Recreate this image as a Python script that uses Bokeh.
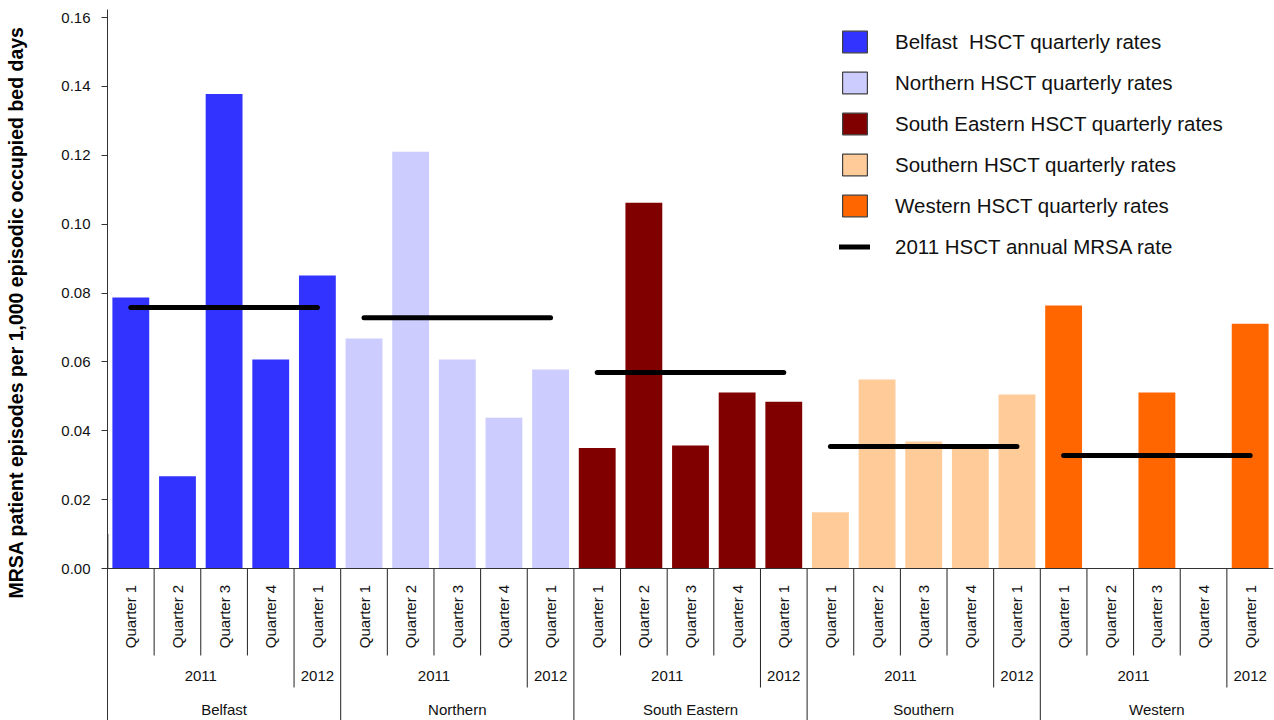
import math
from bokeh.plotting import figure
from bokeh.models import (Range1d, FixedTicker, NumeralTickFormatter, Legend, LegendItem,
                          ColumnDataSource, Title, Span)
from bokeh.core.properties import value
from bokeh.embed import file_html
from bokeh.resources import INLINE

# ---------------- data ----------------
regions = ["Belfast", "Northern", "South Eastern", "Southern", "Western"]
quarters = ["Quarter 1", "Quarter 2", "Quarter 3", "Quarter 4", "Quarter 1"]
years = ["2011", "2011", "2011", "2011", "2012"]

belfast = [0.0787, 0.0268, 0.1378, 0.0607, 0.0851]
northern = [0.0668, 0.1210, 0.0607, 0.0438, 0.0578]
south_eastern = [0.0350, 0.1062, 0.0357, 0.0511, 0.0484]
southern = [0.0163, 0.0549, 0.0369, 0.0352, 0.0505]
western = [0.0764, 0.0, 0.0511, 0.0, 0.0711]
region_values = [belfast, northern, south_eastern, southern, western]

annual_2011 = [0.0758, 0.0728, 0.0569, 0.0354, 0.0328]

colors = ["#3333FF", "#CCCCFF", "#800000", "#FFCC99", "#FF6600"]
legend_labels = ["Belfast  HSCT quarterly rates", "Northern HSCT quarterly rates",
                 "South Eastern HSCT quarterly rates", "Southern HSCT quarterly rates",
                 "Western HSCT quarterly rates"]
annual_label = "2011 HSCT annual MRSA rate"
y_label = "MRSA patient episodes per 1,000 episodic occupied bed days"
y_ticks = [0.00, 0.02, 0.04, 0.06, 0.08, 0.10, 0.12, 0.14, 0.16]

FONT = "Liberation Sans"
TXT = "#111111"

n_per = len(quarters)
n_total = n_per * len(regions)

# vertical layout: 0.16 at 17px, 0 at 568px, bottom at 720px
PX = 3443.75
Y_TOP = 0.16 + 8 / PX
Y_BOTTOM = -152 / PX
Q_LABEL_Y = -48 / PX
Q_SEP_Y = -87 / PX
YR_LABEL_Y = -107 / PX
YR_SEP_Y = -119 / PX
RG_LABEL_Y = -141 / PX

p = figure(width=1274, height=720, output_backend="svg", toolbar_location=None,
           x_range=Range1d(0, n_total), y_range=Range1d(Y_BOTTOM, Y_TOP),
           x_axis_location=None, title=None,
           min_border_left=107, min_border_right=1, min_border_top=9, min_border_bottom=0)
p.outline_line_color = None
p.xgrid.visible = False
p.ygrid.visible = False
p.background_fill_color = "white"

# ---------------- bars ----------------
for g, (vals, col) in enumerate(zip(region_values, colors)):
    src = ColumnDataSource(dict(x=[g * n_per + k + 0.5 for k in range(n_per)], top=vals))
    p.vbar(x="x", top="top", bottom=0, width=0.79, source=src,
           fill_color=col, line_color=None)

# baseline at zero
p.add_layout(Span(location=0, dimension="width", line_color="#333333", line_width=1))

# ---------------- annual lines ----------------
ann_src = ColumnDataSource(dict(
    x0=[g * n_per + 0.5 for g in range(len(regions))],
    x1=[g * n_per + n_per - 0.5 for g in range(len(regions))],
    y=annual_2011))
ann = p.segment(x0="x0", y0="y", x1="x1", y1="y", source=ann_src,
                line_color="black", line_width=5, line_cap="round")

# ---------------- category table ----------------
xs_q, lab_q = [], []
for g in range(len(regions)):
    for k in range(n_per):
        xs_q.append(g * n_per + k + 0.5)
        lab_q.append(quarters[k])
p.text(x=xs_q, y=[Q_LABEL_Y] * len(xs_q), text=lab_q, angle=math.pi / 2,
       text_align="center", text_baseline="middle", text_font=value(FONT),
       text_font_size="15px", text_color=TXT)

xs_y, lab_y = [], []
for g in range(len(regions)):
    uniq = []
    for k, yv in enumerate(years):
        if not uniq or uniq[-1][0] != yv:
            uniq.append([yv, k, k])
        else:
            uniq[-1][2] = k
    for yv, a, b in uniq:
        xs_y.append(g * n_per + (a + b + 1) / 2)
        lab_y.append(yv)
p.text(x=xs_y, y=[YR_LABEL_Y] * len(xs_y), text=lab_y,
       text_align="center", text_baseline="middle", text_font=value(FONT),
       text_font_size="15px", text_color=TXT)

p.text(x=[g * n_per + n_per / 2 for g in range(len(regions))],
       y=[RG_LABEL_Y] * len(regions), text=regions,
       text_align="center", text_baseline="middle", text_font=value(FONT),
       text_font_size="15px", text_color=TXT)

sx, sy1 = [], []
for g in range(len(regions)):
    for k in range(1, n_per):
        sx.append(g * n_per + k)
        sy1.append(YR_SEP_Y if years[k] != years[k - 1] else Q_SEP_Y)
    if g > 0:
        sx.append(g * n_per)
        sy1.append(Y_BOTTOM)
p.segment(x0=sx, y0=[0] * len(sx), x1=sx, y1=sy1, line_color="#222222", line_width=1)

# ---------------- y axis ----------------
yax = p.yaxis[0]
yax.ticker = FixedTicker(ticks=y_ticks)
yax.formatter = NumeralTickFormatter(format="0.00")
yax.major_label_text_font = FONT
yax.major_label_text_font_size = "15px"
yax.major_label_text_color = TXT
yax.major_tick_out = 6
yax.major_tick_in = 0
yax.minor_tick_line_color = None
yax.axis_line_color = "#333333"
yax.major_tick_line_color = "#333333"
yax.major_label_standoff = 11
# invisible spacer label to push the title outwards
yax.axis_label = "."
yax.axis_label_text_font_size = "2px"
yax.axis_label_text_alpha = 0
yax.axis_label_standoff = 28

p.add_layout(Title(text=y_label, align="left", offset=122, standoff=0, text_font=FONT,
                   text_font_size="19.5px", text_font_style="bold", text_color="black"), "left")

# ---------------- legend ----------------
items = []
for lab, col in zip(legend_labels, colors):
    proxy = p.vbar(x=[-1], top=[0.01], width=0.5, fill_color=col,
                   line_color="#404040", line_width=1.2)
    items.append(LegendItem(label=lab, renderers=[proxy]))
items.append(LegendItem(label=annual_label, renderers=[ann]))

legend = Legend(items=items, location=(732, 460), padding=0, margin=0, spacing=14,
                glyph_width=31, glyph_height=27, label_standoff=25,
                label_text_font=FONT, label_text_font_size="20.5px", label_text_color=TXT,
                border_line_color=None, background_fill_alpha=0)
p.add_layout(legend)

open("out.html", "w").write(file_html(p, INLINE))
